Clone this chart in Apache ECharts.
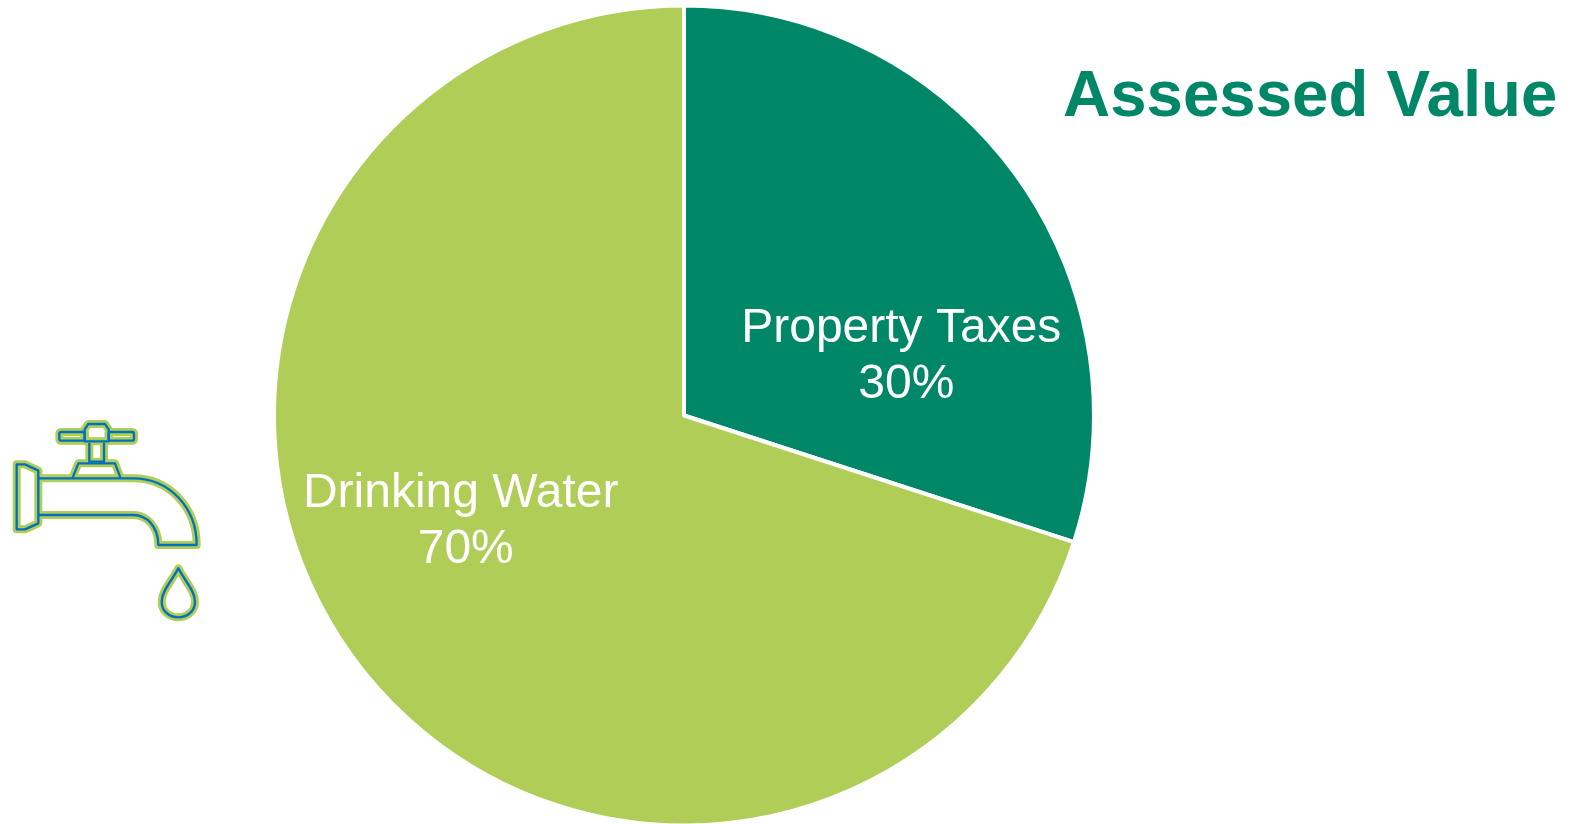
<!DOCTYPE html>
<html>
<head>
<meta charset="utf-8">
<style>html,body{margin:0;padding:0;background:#fff}#c{width:1569px;height:824px}</style>
<script src="https://cdn.jsdelivr.net/npm/echarts@6/dist/echarts.min.js"></script>
</head>
<body>
<div id="c"></div>
<script>
const categories = ['Property Taxes', 'Drinking Water'];
const shares = [30, 70];
const colors = ['#008768', '#AFCD57'];
const labelOffsets = [[54, 64], [-50, -16]];
const titleText = 'Assessed Value';

const faucetPaths = [
  'M115,205 L400,205 C505,205 590,290 590,405 L475,405 C475,350 440,315 400,315 L115,315',
  'M50,163 L75,163 L115,182 L115,340 L75,358 L50,358 Z',
  'M217,205 L235,160 L345,160 L362,205',
  'M268,98 L268,155 L312,155 L312,98',
  'M254,58 L265,42 L315,42 L326,58 L326,94 L254,94 Z',
  'M184,66 L248,66 Q254,66 254,72 L254,86 Q254,92 248,92 L184,92 Q178,92 178,86 L178,72 Q178,66 184,66 Z',
  'M332,66 L396,66 Q402,66 402,72 L402,86 Q402,92 396,92 L332,92 Q326,92 326,86 L326,72 Q326,66 332,66 Z',
  'M535,475 C510,520 485,545 485,575 C485,605 510,622 535,622 C560,622 585,605 585,575 C585,545 560,520 535,475 Z'
];
faucetPaths.forEach((d, i) => {
  echarts.graphic.registerShape('faucet' + i, echarts.graphic.extendPath(d, {}));
});
function pathEl(i, color, w, z) {
  return { type: 'faucet' + i, z: z, scaleX: 1 / 3, scaleY: 1 / 3, x: 0, y: 410,
    style: { fill: null, stroke: color, lineWidth: w, lineJoin: 'round' } };
}
const chart = echarts.init(document.getElementById('c'), null, { renderer: 'canvas' });
const labelFont = { fontFamily: 'Liberation Sans', fontSize: 48, lineHeight: 56, color: '#fff' };
chart.setOption({
  animation: false,
  backgroundColor: '#fff',
  title: {
    text: titleText, left: 1058, top: 60,
    textStyle: { fontFamily: 'Liberation Sans', fontWeight: 'bold', fontSize: 65.4, color: '#008768' }
  },
  series: [{
    type: 'pie',
    center: [684, 415.5],
    radius: [0, 410],
    startAngle: 90,
    clockwise: true,
    silent: true,
    labelLine: { show: false },
    itemStyle: { borderColor: '#fff', borderWidth: 4 },
    data: categories.map((name, i) => ({
      name, value: shares[i],
      itemStyle: { color: colors[i] },
      label: { offset: labelOffsets[i] }
    })),
    label: {
      show: true, position: 'inside', align: 'center',
      formatter: p => '{a|' + p.name + '}\n{b|' + p.value + '%}',
      rich: { a: Object.assign({ padding: [0, 10, 0, 0] }, labelFont), b: labelFont }
    }
  }],
  graphic: faucetPaths.map((d, i) => pathEl(i, '#AFCD57', 24, 1))
    .concat(faucetPaths.map((d, i) => pathEl(i, '#0070C0', 7, 2)))
});
</script>
</body>
</html>
